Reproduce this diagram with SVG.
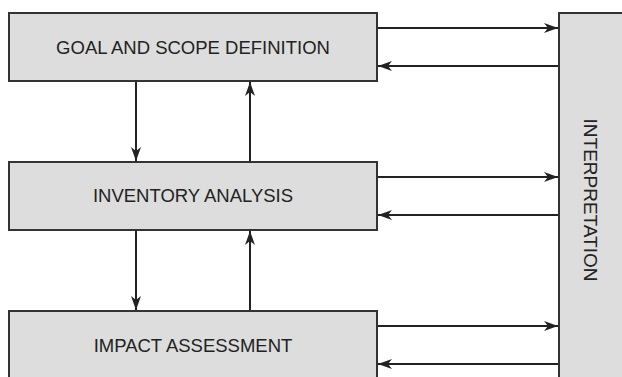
<svg xmlns="http://www.w3.org/2000/svg" width="622" height="377" viewBox="0 0 622 377">
  <style>
    .box { fill: #dcdddc; stroke: #333333; stroke-width: 2; }
    .label { font-family: "Liberation Sans", Arial, sans-serif; font-size: 18.5px; fill: #222222; text-anchor: middle; }
    .link { stroke: #222222; stroke-width: 2; fill: none; marker-end: url(#head); }
  </style>
  <defs>
    <marker id="head" viewBox="0 0 14 10" refX="14" refY="5" markerWidth="14" markerHeight="10" markerUnits="userSpaceOnUse" orient="auto">
      <path d="M0,0 L14,5 L0,10 L4,5 Z" fill="#222222"/>
    </marker>
  </defs>

  <rect width="622" height="377" fill="#ffffff"/>

  <g id="interpretation">
    <rect class="box" x="559" y="13" width="70" height="380"/>
    <text class="label" transform="translate(590,200) rotate(90)" dominant-baseline="central" style="font-size:19px">INTERPRETATION</text>
  </g>

  <g id="goal-and-scope">
    <rect class="box" x="9" y="13" width="368" height="68"/>
    <text class="label" x="193" y="54">GOAL AND SCOPE DEFINITION</text>
  </g>

  <g id="inventory-analysis">
    <rect class="box" x="9" y="162" width="368" height="68"/>
    <text class="label" x="193" y="202">INVENTORY ANALYSIS</text>
  </g>

  <g id="impact-assessment">
    <rect class="box" x="9" y="311" width="368" height="80"/>
    <text class="label" x="193" y="352">IMPACT ASSESSMENT</text>
  </g>

  <g id="connectors">
    <line class="link" x1="378" y1="28" x2="558" y2="28"/>
    <line class="link" x1="558" y1="66" x2="378" y2="66"/>
    <line class="link" x1="378" y1="177" x2="558" y2="177"/>
    <line class="link" x1="558" y1="215" x2="378" y2="215"/>
    <line class="link" x1="378" y1="326" x2="558" y2="326"/>
    <line class="link" x1="558" y1="364" x2="378" y2="364"/>
    <line class="link" x1="136" y1="82" x2="136" y2="161"/>
    <line class="link" x1="250" y1="161" x2="250" y2="82"/>
    <line class="link" x1="136" y1="231" x2="136" y2="310"/>
    <line class="link" x1="250" y1="310" x2="250" y2="231"/>
  </g>
</svg>
